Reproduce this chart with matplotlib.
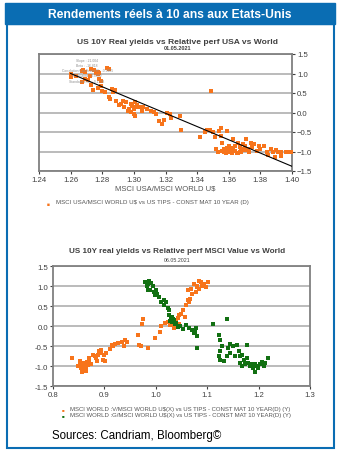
import matplotlib
matplotlib.use("Agg")
import matplotlib.pyplot as plt
from matplotlib.patches import Rectangle

plt.rcParams["font.family"] = ["Liberation Sans", "DejaVu Sans"]

# top chart: MSCI USA / MSCI World vs US 10Y real yield
usa_x = [1.260, 1.260, 1.2636, 1.267, 1.268, 1.269, 1.2675, 1.269, 1.271, 1.272,
         1.273, 1.275, 1.276, 1.277, 1.277, 1.278, 1.279, 1.278, 1.279, 1.277,
         1.274, 1.273, 1.283, 1.284, 1.280, 1.282, 1.284, 1.285, 1.286, 1.287,
         1.288, 1.289, 1.292, 1.293, 1.294, 1.295, 1.296, 1.297, 1.298, 1.299,
         1.300, 1.301, 1.301, 1.302, 1.300, 1.301, 1.303, 1.305, 1.306, 1.308,
         1.311, 1.313, 1.314, 1.316, 1.318, 1.319, 1.321, 1.323, 1.3235, 1.329,
         1.330, 1.2905, 1.298,
         1.342, 1.345, 1.346, 1.348, 1.3485, 1.350, 1.351, 1.352, 1.354, 1.355,
         1.355, 1.356, 1.357, 1.358, 1.359, 1.359, 1.360, 1.361, 1.362, 1.363,
         1.364, 1.366, 1.367, 1.367, 1.368, 1.369, 1.370, 1.371, 1.372, 1.373,
         1.374, 1.375, 1.376, 1.378, 1.379, 1.380, 1.382, 1.384, 1.385, 1.387,
         1.388, 1.389, 1.391, 1.393, 1.396, 1.393, 1.356, 1.358, 1.360, 1.362,
         1.364, 1.365, 1.357, 1.361, 1.363, 1.366, 1.368, 1.370, 1.359, 1.353,
         1.398, 1.400, 1.390]
usa_y = [0.98, 0.90, 0.94, 1.07, 1.10, 1.03, 0.77, 0.85, 0.83, 0.94,
         1.11, 1.10, 1.01, 0.98, 1.04, 1.01, 0.81, 0.87, 0.68, 0.62,
         0.58, 0.70, 1.14, 1.12, 0.56, 0.52, 0.39, 0.34, 0.60, 0.53,
         0.58, 0.30, 0.21, 0.30, 0.13, 0.26, 0.04, 0.10, 0.21, 0.17,
         0.09, 0.26, 0.13, 0.19, -0.04, -0.09, 0.13, 0.04, 0.13, 0.09,
         0.04, 0.02, -0.04, -0.21, -0.30, -0.19, -0.02, -0.04, -0.15, -0.10,
         -0.44, 0.19, 0.02,
         -0.64, -0.49, -0.44, -0.44, 0.55, -0.51, -0.64, -0.94, -0.47, -0.40,
         -0.60, -0.77, -0.94, -1.03, -0.95, -0.47, -0.86, -1.02, -0.94, -0.68,
         -0.85, -0.77, -0.89, -1.02, -0.94, -0.81, -0.85, -0.68, -0.94, -1.02,
         -0.77, -0.89, -0.81, -0.98, -0.85, -0.94, -0.85, -1.02, -1.09, -0.94,
         -1.02, -1.14, -1.02, -1.02, -1.00, -1.11, -0.98, -1.00, -0.97, -1.03,
         -0.99, -1.05, -1.01, -0.98, -0.92, -1.04, -1.00, -0.96, -0.90, -1.00,
         -1.00, -1.00, -0.95]
fit_x = [1.260, 1.400]
fit_y = [1.00, -1.38]

# bottom chart: MSCI World Value / Growth vs US 10Y real yield
value_x = [0.836, 0.849, 0.852, 0.855, 0.857, 0.858, 0.860, 0.862, 0.864, 0.865,
           0.866, 0.868, 0.870, 0.871, 0.873, 0.870, 0.853, 0.857, 0.862, 0.859,
           0.877, 0.881, 0.884, 0.886, 0.888, 0.890, 0.893, 0.894, 0.897, 0.899,
           0.901, 0.904, 0.910, 0.914, 0.917, 0.920, 0.927, 0.935, 0.938, 0.940,
           0.943, 0.966, 0.973, 0.975, 0.968, 0.971, 0.984, 0.999, 1.008, 1.011,
           1.017, 1.024, 1.027, 1.030, 1.036, 1.040, 1.043, 1.046, 1.049, 1.053,
           1.056, 1.058, 1.062, 1.065, 1.066, 1.062, 1.068, 1.071, 1.075, 1.078,
           1.081, 1.084, 1.087, 1.090, 1.094, 1.097, 1.101, 1.081, 1.084, 1.033,
           1.038, 1.045]
value_y = [-0.81, -0.99, -0.96, -1.04, -0.92, -1.09, -1.00, -0.95, -1.03, -1.13,
           -0.90, -0.98, -0.92, -0.86, -0.96, -0.80, -0.88, -1.15, -0.92, -1.06,
           -0.73, -0.76, -0.81, -0.88, -0.72, -0.63, -0.67, -0.59, -0.84, -0.72,
           -0.88, -0.67, -0.57, -0.47, -0.51, -0.45, -0.43, -0.40, -0.51, -0.34,
           -0.40, -0.22, 0.04, 0.17, -0.47, -0.51, -0.55, -0.29, -0.14, 0.01,
           0.07, 0.09, 0.02, 0.07, -0.04, 0.11, 0.19, 0.27, 0.31, 0.40,
           0.23, 0.52, 0.64, 0.60, 0.68, 0.89, 0.93, 0.81, 1.05, 0.85,
           1.01, 1.13, 1.09, 1.01, 1.05, 0.97, 1.09, 0.97, 0.93, 0.02,
           0.12, 0.05]
growth_x = [0.979, 0.982, 0.984, 0.987, 0.984, 0.989, 0.990, 0.994, 0.997, 0.999,
            1.001, 1.003, 1.006, 1.010, 1.016, 1.019, 1.023, 1.026, 1.016, 1.026,
            1.030, 1.031, 1.032, 1.036, 1.038, 1.040, 1.044, 1.047, 1.053, 1.058,
            1.065, 1.070, 1.075, 1.078, 1.081, 1.081, 1.076, 1.112, 1.138, 1.122,
            1.125, 1.129, 1.125, 1.122, 1.125, 1.132, 1.138, 1.145, 1.141, 1.145,
            1.151, 1.158, 1.161, 1.164, 1.167, 1.171, 1.177, 1.174, 1.180, 1.184,
            1.187, 1.190, 1.193, 1.197, 1.199, 1.203, 1.206, 1.210, 1.213, 1.193,
            1.219, 1.177, 1.164, 1.167, 1.154, 1.028, 1.034, 1.035]
growth_y = [1.09, 1.01, 1.05, 1.13, 0.89, 0.90, 1.07, 1.01, 0.85, 0.77,
            0.89, 0.81, 0.72, 0.60, 0.64, 0.60, 0.44, 0.40, 0.52, 0.27,
            0.19, 0.11, 0.23, 0.15, 0.04, 0.07, -0.02, 0.01, -0.07, 0.02,
            -0.06, -0.10, -0.18, -0.06, -0.26, -0.55, -0.14, 0.04, 0.17, -0.22,
            -0.35, -0.51, -0.63, -0.76, -0.86, -0.88, -0.76, -0.67, -0.55, -0.45,
            -0.51, -0.47, -0.63, -0.76, -0.72, -0.84, -0.47, -0.96, -0.92, -1.00,
            -0.95, -1.06, -0.96, -1.00, -1.04, -0.96, -0.89, -1.00, -0.92, -1.15,
            -0.81, -0.80, -0.92, -1.00, -0.76, 0.13, 0.17, 0.10]

orange = "#f7741b"
green = "#127012"
blue = "#0a6db3"
grid_c = "#a8a8a8"
frame_c = "#808080"
text_c = "#555555"

fig = plt.figure(figsize=(3.42, 4.52), dpi=100)

# header band and blue frame
fig.patches.append(Rectangle((5 / 342, 1 - 25 / 452), 330 / 342, 21 / 452,
                             transform=fig.transFigure, color=blue, zorder=0))
fig.patches.append(Rectangle((7 / 342, 1 - 449 / 452), 327 / 342, 424 / 452,
                             transform=fig.transFigure, fill=False,
                             edgecolor=blue, linewidth=1.5, zorder=0))
fig.text(170 / 342, 1 - 15 / 452, "Rendements réels à 10 ans aux Etats-Unis",
         color="white", fontsize=8.7, fontweight="bold", ha="center", va="center")


def style(ax):
    for s in ax.spines.values():
        s.set_color(frame_c)
        s.set_linewidth(1.3)
    ax.grid(axis="y", color=grid_c, linewidth=1.1)
    ax.set_axisbelow(True)
    ax.tick_params(labelsize=5.6, colors="#404040", length=2, width=0.8, pad=1.5)


# --- top chart ---
ax1 = fig.add_axes([39 / 342, 1 - 172 / 452, 253 / 342, 117 / 452])
ax1.scatter(usa_x, usa_y, s=7, color=orange, marker="s", linewidths=0, zorder=3)
ax1.plot(fit_x, fit_y, color="black", linewidth=0.8, zorder=4)
ax1.set_xlim(1.24, 1.40)
ax1.set_ylim(-1.5, 1.5)
ax1.set_xticks([1.24, 1.26, 1.28, 1.30, 1.32, 1.34, 1.36, 1.38, 1.40])
ax1.set_yticks([-1.5, -1.0, -0.5, 0.0, 0.5, 1.0, 1.5])
ax1.yaxis.tick_right()
style(ax1)
ax1.set_xlabel("MSCI USA/MSCI WORLD U$", fontsize=5.5, color=text_c, labelpad=1)
stats = ["Slope : 21.004", "Beta : -16.818", "Correlation Coefficient R : -0.9465",
         "R Squared : 0.8959", "Standard error : 0.1728"]
for i, t in enumerate(stats):
    ax1.text(0.19, 0.97 - i * 0.045, t, transform=ax1.transAxes, fontsize=2.4,
             color="#909090", ha="center", va="top")
fig.text(177 / 342, 1 - 42 / 452, "US 10Y Real yields vs Relative perf USA vs World",
         fontsize=6.1, fontweight="bold", color="#404040", ha="center", va="center")
fig.text(177 / 342, 1 - 49 / 452, "01.05.2021", fontsize=4.0, fontweight="bold",
         color="#404040", ha="center", va="center")
fig.text(48 / 342, 1 - 204 / 452, "\u25a0", fontsize=3.5, color=orange,
         ha="center", va="center")
fig.text(56 / 342, 1 - 203 / 452, "MSCI USA/MSCI WORLD U$ vs US TIPS - CONST MAT 10 YEAR (D)",
         fontsize=4.4, color=text_c, ha="left", va="center")

# --- bottom chart ---
ax2 = fig.add_axes([53 / 342, 1 - 387 / 452, 257 / 342, 120 / 452])
ax2.scatter(value_x, value_y, s=7, color=orange, marker="s", linewidths=0, zorder=3)
ax2.scatter(growth_x, growth_y, s=7, color=green, marker="s", linewidths=0, zorder=3)
ax2.set_xlim(0.8, 1.3)
ax2.set_ylim(-1.5, 1.5)
ax2.set_xticks([0.8, 0.9, 1.0, 1.1, 1.2, 1.3])
ax2.set_yticks([-1.5, -1.0, -0.5, 0.0, 0.5, 1.0, 1.5])
ax2.set_yticklabels(["-1.5", "-1.0", "-0.5", "0.0", "0.5", "1.0", "1.5"])
style(ax2)
fig.text(177 / 342, 1 - 252 / 452, "US 10Y real yields vs Relative perf MSCI Value vs World",
         fontsize=5.9, fontweight="bold", color="#404040", ha="center", va="center")
fig.text(177 / 342, 1 - 260 / 452, "06.05.2021", fontsize=3.8, color="#404040",
         ha="center", va="center")
leg = [("MSCI WORLD :V/MSCI WORLD U$(X) vs US TIPS - CONST MAT 10 YEAR(D) (Y)", orange),
       ("MSCI WORLD :G/MSCI WORLD U$(X) vs US TIPS - CONST MAT 10 YEAR(D) (Y)", green)]
for i, (t, c) in enumerate(leg):
    yy = 1 - (410 + i * 6) / 452
    fig.text(63 / 342, yy, "\u25a0", fontsize=3.2, color=c, ha="center", va="center")
    fig.text(70 / 342, yy, t, fontsize=4.3, color=text_c, ha="left", va="center")

fig.text(52 / 342, 1 - 436 / 452, "Sources: Candriam, Bloomberg©", fontsize=8.3,
         color="black", ha="left", va="center")

fig.savefig("out.png", dpi=100)
